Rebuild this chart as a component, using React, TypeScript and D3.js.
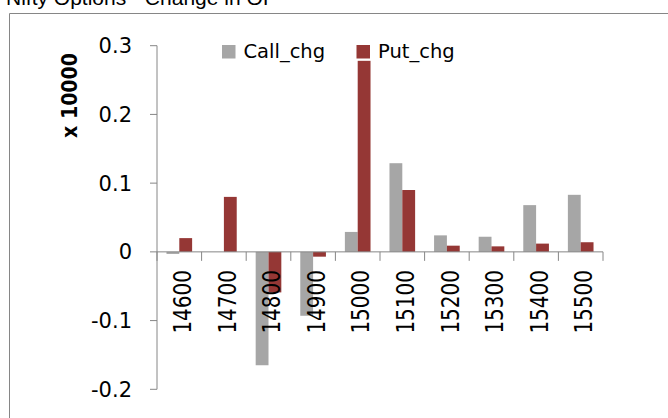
import React from 'react';
import * as d3 from 'd3';

// Strike prices on the x axis
const strikes = ['14600', '14700', '14800', '14900', '15000', '15100', '15200', '15300', '15400', '15500'];
// Change in open interest, in units of 10000
const callChg = [-0.003, 0, -0.165, -0.093, 0.029, 0.129, 0.024, 0.022, 0.068, 0.083];
const putChg = [0.02, 0.08, -0.059, -0.007, 0.278, 0.09, 0.009, 0.008, 0.012, 0.014];
const seriesNames = ['Call_chg', 'Put_chg'];
const yTicks = [-0.2, -0.1, 0, 0.1, 0.2, 0.3];

const WIDTH = 668;
const HEIGHT = 418;
const AXIS = '#868686';
const colors = ['#A6A6A6', '#953735'];
const FONT = '"DejaVu Sans", sans-serif';

const App: React.FC = () => {
  const plot = { left: 157, right: 603, top: 45.7, bottom: 389.3 };

  const x0 = d3.scaleBand<string>()
    .domain(strikes)
    .range([plot.left, plot.right])
    .paddingInner(0)
    .paddingOuter(0);

  const bw = x0.bandwidth();
  const groupW = bw * 0.575;
  const x1 = d3.scaleBand<string>()
    .domain(seriesNames)
    .range([(bw - groupW) / 2, (bw + groupW) / 2]);

  const y = d3.scaleLinear().domain([-0.2, 0.3]).range([plot.bottom, plot.top]);
  const y0 = y(0);

  const series = [callChg, putChg];
  // plain hyphen for negatives, like Excel
  const fmt = (v: number) => (v === 0 ? '0' : v.toFixed(1));

  const boundaries = strikes.map((s) => x0(s) as number).concat([plot.right]);

  return (
    <svg
      width={WIDTH}
      height={HEIGHT}
      style={{ position: 'absolute', left: 0, top: 0, background: '#fff' }}
    >
      <rect x={0} y={0} width={WIDTH} height={HEIGHT} fill="#fff" />
      {/* title, cut off at the top */}
      <text x={6} y={5} fontFamily='"Liberation Sans", Arial, sans-serif' fontSize={21} fill="#000">
        Nifty Options - Change in OI
      </text>
      {/* chart frame */}
      <path d={`M9.5,${HEIGHT} V13.5 H${WIDTH}`} fill="none" stroke={AXIS} strokeWidth={1} />

      {/* bars */}
      {series.map((vals, si) => (
        <g key={seriesNames[si]} fill={colors[si]}>
          {vals.map((v, i) => (
            <rect
              key={strikes[i]}
              x={(x0(strikes[i]) as number) + (x1(seriesNames[si]) as number)}
              y={Math.min(y(v), y0)}
              width={x1.bandwidth()}
              height={Math.abs(y(v) - y0)}
            />
          ))}
        </g>
      ))}

      {/* y axis */}
      <line x1={plot.left} x2={plot.left} y1={plot.top} y2={plot.bottom} stroke={AXIS} />
      {yTicks.map((t) => (
        <g key={t}>
          <line x1={plot.left - 7} x2={plot.left} y1={y(t)} y2={y(t)} stroke={AXIS} />
          <text
            x={132}
            y={y(t)}
            dy="0.36em"
            textAnchor="end"
            fontFamily={FONT}
            fontSize={21}
            fill="#000"
          >
            {fmt(t)}
          </text>
        </g>
      ))}
      <text
        transform={`translate(76.5,53) scale(1.15,1) rotate(-90)`}
        textAnchor="end"
        fontFamily={FONT}
        fontWeight="bold"
        fontSize={19}
        fill="#000"
      >
        x 10000
      </text>

      {/* x axis */}
      <line x1={plot.left} x2={plot.right} y1={y0} y2={y0} stroke={AXIS} />
      {boundaries.map((bx, i) => (
        <line key={i} x1={bx} x2={bx} y1={y0} y2={y0 + 9} stroke={AXIS} />
      ))}
      {strikes.map((s) => (
        <text
          key={s}
          transform={`translate(${(x0(s) as number) + bw / 2 + 3},270) scale(1.22,1) rotate(-90)`}
          dy="0.36em"
          textAnchor="end"
          fontFamily={FONT}
          fontSize={20}
          fill="#000"
        >
          {s}
        </text>
      ))}

      {/* legend */}
      {seriesNames.map((name, i) => {
        const lx = i === 0 ? 222 : 356.5;
        return (
          <g key={name}>
            <rect x={lx} y={45} width={13.5} height={13.5} fill={colors[i]} />
            <text x={lx + 21.5} y={58.3} fontFamily={FONT} fontSize={19.5} fill="#000">
              {name}
            </text>
          </g>
        );
      })}
    </svg>
  );
};

export default App;
